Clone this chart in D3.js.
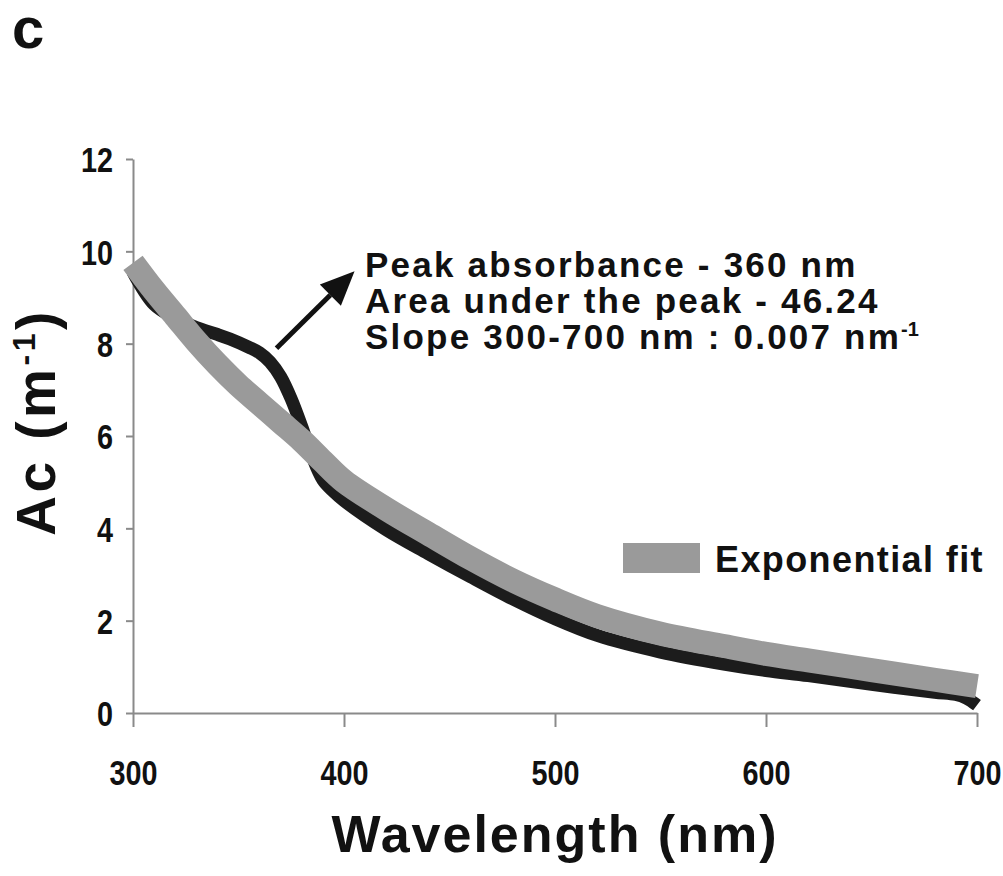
<!DOCTYPE html>
<html>
<head>
<meta charset="utf-8">
<script src="https://cdn.jsdelivr.net/npm/d3@7"></script>
<style>
  html, body { margin: 0; padding: 0; background: #fff; }
  svg { display: block; }
  text { font-family: "Liberation Sans", Arial, Helvetica, sans-serif; font-weight: bold; fill: #111; }
</style>
</head>
<body>
<svg id="chart" width="1003" height="876"></svg>
<script>
// ---- data ----
const measuredWavelength = [300, 310, 320, 330, 340, 346, 355, 360, 365, 370, 375, 380, 385, 390, 395, 400, 420, 440, 460, 480, 500, 520, 550, 580, 600, 620, 650, 680, 690, 695, 700];
const measuredAc =         [9.55, 8.85, 8.55, 8.35, 8.2, 8.1, 7.92, 7.8, 7.6, 7.28, 6.8, 6.2, 5.55, 5.05, 4.8, 4.6, 3.97, 3.45, 2.95, 2.47, 2.04, 1.68, 1.32, 1.06, 0.92, 0.81, 0.62, 0.45, 0.4, 0.32, 0.17];
const fitWavelength = [300, 310, 320, 330, 340, 350, 360, 370, 380, 390, 400, 420, 440, 460, 480, 500, 520, 550, 580, 600, 620, 650, 680, 700];
const fitAc =         [9.75, 9.15, 8.6, 8.05, 7.55, 7.1, 6.7, 6.3, 5.9, 5.45, 5.02, 4.42, 3.88, 3.35, 2.87, 2.46, 2.1, 1.72, 1.45, 1.28, 1.14, 0.93, 0.72, 0.58];
const xTicks = [300, 400, 500, 600, 700];
const yTicks = [0, 2, 4, 6, 8, 10, 12];
const panelLabel = "c";
const xTitle = "Wavelength (nm)";
const yTitleMain = "Ac (m";
const yTitleSup = "-1";
const legendLabel = "Exponential fit";
const annotationLines = ["Peak absorbance - 360 nm", "Area under the peak - 46.24", "Slope 300-700 nm : 0.007 nm"];
const annotationSup = "-1";
// arrow in data units: [wavelength, Ac]
const arrowFrom = [368, 7.9];
const arrowTo = [405, 9.57];

// ---- layout ----
const svg = d3.select("#chart");
const x = d3.scaleLinear().domain([300, 700]).range([133, 977]);
const y = d3.scaleLinear().domain([0, 12]).range([713, 159]);
const axisColor = "#8a8a8a";
const condense = 0.8;

// axes
const gx = svg.append("g").attr("transform", `translate(0,${y(0)})`)
  .call(d3.axisBottom(x).tickValues(xTicks).tickSize(14).tickSizeOuter(0).tickFormat(d3.format("d")));
const gy = svg.append("g").attr("transform", `translate(${x(300)},0)`)
  .call(d3.axisLeft(y).tickValues(yTicks).tickSize(7).tickSizeOuter(0).tickFormat(d3.format("d")));
[gx, gy].forEach(g => {
  g.select(".domain").attr("stroke", axisColor).attr("stroke-width", 2);
  g.selectAll(".tick line").attr("stroke", axisColor).attr("stroke-width", 2);
  g.selectAll(".tick text").attr("fill", "#111").style("font-size", "36px")
    .style("font-family", '"Liberation Sans", Arial, sans-serif').style("font-weight", "bold");
});
gx.selectAll(".tick text").attr("y", 72).attr("dy", 0).attr("x", 0)
  .attr("transform", `scale(${condense},1)`);
gy.selectAll(".tick text").attr("x", -20 / condense).attr("dy", "0.36em")
  .attr("transform", `scale(${condense},1)`);

// curves
const line = d3.line().x(d => x(d[0])).y(d => y(d[1])).curve(d3.curveCatmullRom.alpha(0.5));
svg.append("path").datum(d3.zip(measuredWavelength, measuredAc))
  .attr("d", line).attr("fill", "none").attr("stroke", "#1c1c1c").attr("stroke-width", 13)
  .attr("stroke-linejoin", "round");
svg.append("path").datum(d3.zip(fitWavelength, fitAc))
  .attr("d", line).attr("fill", "none").attr("stroke", "#9a9a9a").attr("stroke-width", 24);

// arrow
const ax0 = x(arrowFrom[0]), ay0 = y(arrowFrom[1]), ax1 = x(arrowTo[0]), ay1 = y(arrowTo[1]);
const ang = Math.atan2(ay1 - ay0, ax1 - ax0);
const headLen = 34, headHalf = 15;
const bx = ax1 - headLen * Math.cos(ang), by = ay1 - headLen * Math.sin(ang);
svg.append("line").attr("x1", ax0).attr("y1", ay0).attr("x2", bx).attr("y2", by)
  .attr("stroke", "#111").attr("stroke-width", 5);
svg.append("path").attr("fill", "#111").attr("d",
  `M${ax1},${ay1}L${bx + headHalf * Math.sin(ang)},${by - headHalf * Math.cos(ang)}L${bx - headHalf * Math.sin(ang)},${by + headHalf * Math.cos(ang)}Z`);

// annotation text
const ann = svg.append("g");
annotationLines.forEach((t, i) => {
  const tx = ann.append("text").attr("x", 365).attr("y", 277 + i * 36)
    .style("font-size", "35px").style("letter-spacing", "2.2px").text(t);
  if (i === 2) {
    tx.append("tspan").attr("dy", -13).style("font-size", "20px").style("letter-spacing", "0px").text(annotationSup);
  }
});

// legend
svg.append("rect").attr("x", 623).attr("y", 543).attr("width", 77).attr("height", 30).attr("fill", "#9a9a9a");
svg.append("text").attr("x", 715).attr("y", 572).style("font-size", "36px").style("letter-spacing", "1.4px").text(legendLabel);

// titles
svg.append("text").attr("x", (x(300) + x(700)) / 2).attr("y", 852).attr("text-anchor", "middle")
  .style("font-size", "52px").style("letter-spacing", "2px").text(xTitle);
const yt = svg.append("text").attr("transform", "translate(55,422) rotate(-90)").attr("text-anchor", "middle")
  .style("font-size", "55px").style("letter-spacing", "3.5px");
yt.append("tspan").text(yTitleMain);
yt.append("tspan").attr("dy", -20).style("font-size", "32px").text(yTitleSup);
yt.append("tspan").attr("dy", 20).text(")");

// panel label
svg.append("text").attr("x", 12).attr("y", 48).style("font-size", "58px").text(panelLabel);
</script>
</body>
</html>
